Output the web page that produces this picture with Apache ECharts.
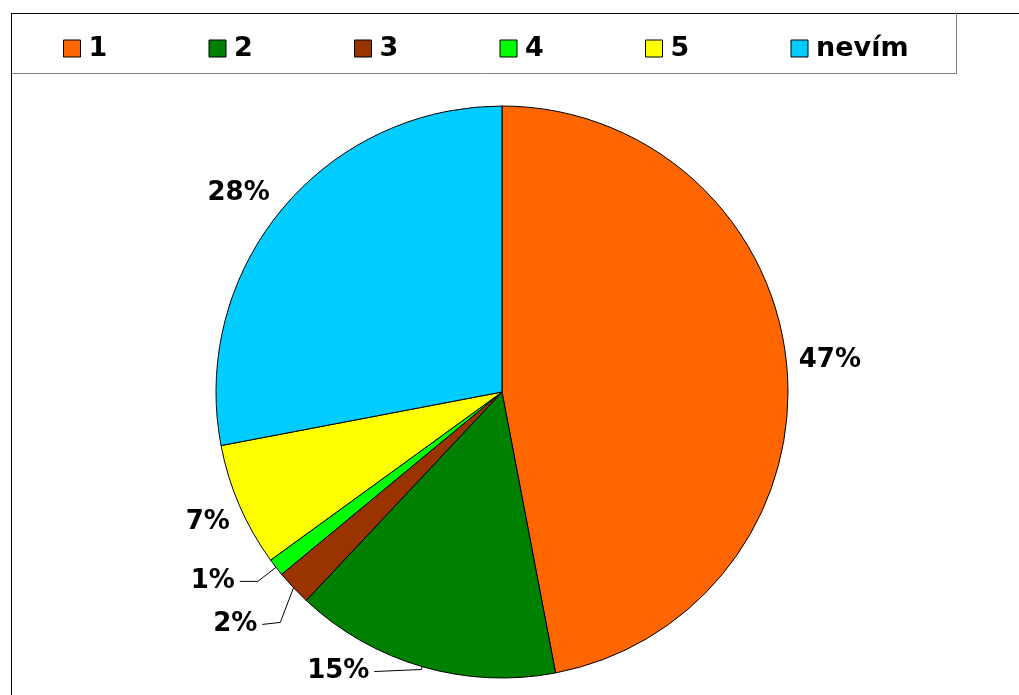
<!DOCTYPE html>
<html>
<head>
<meta charset="utf-8">
<script src="https://cdn.jsdelivr.net/npm/echarts@6/dist/echarts.min.js"></script>
<style>
  html, body { margin: 0; padding: 0; background: #fff; }
  #chart { width: 1019px; height: 695px; }
</style>
</head>
<body>
<div id="chart"></div>
<script>
// Answer categories and their shares (percent)
const categories = ['1', '2', '3', '4', '5', 'nevím'];
const shares = [47, 15, 2, 1, 7, 28];
const colors = ['#FF6600', '#008000', '#993300', '#00FF00', '#FFFF00', '#00CCFF'];

// Label placement per slice: leader-line lengths, whether the line shows, vertical nudge
const lineLen1 = [4, 3, 36, 23, 4, 9];
const lineLen2 = [3, 47, 5, 18, 1, 0];
const lineShow = [false, true, true, true, false, false];
const labelNudge = [-4, 2, 12, 0, 15, -11];
const elbowShiftX = [0, 0, 13, 0, 0, 0];

const chart = echarts.init(document.getElementById('chart'), null, { renderer: 'canvas' });

const FONT = '"DejaVu Sans", Verdana, sans-serif';

const data = categories.map((name, i) => ({
  name,
  value: shares[i],
  itemStyle: { color: colors[i] },
  label: { show: true },
  labelLine: { show: lineShow[i], length: lineLen1[i], length2: lineLen2[i] }
}));

chart.setOption({
  animation: false,
  backgroundColor: '#ffffff',
  legend: {
    data: categories,
    orient: 'horizontal',
    left: 63,
    top: 35,
    padding: 0,
    itemWidth: 17,
    itemHeight: 17,
    itemGap: 8,
    icon: 'rect',
    selectedMode: false,
    itemStyle: { borderColor: '#000', borderWidth: 1 },
    textStyle: {
      fontFamily: FONT,
      fontSize: 27,
      fontWeight: 'bold',
      color: '#000',
      width: 112,
      padding: [0, 0, 0, 3],
      lineHeight: 20
    }
  },
  graphic: [
    // chart frame (top and left edges)
    { type: 'line', shape: { x1: 11, y1: 13.5, x2: 1019, y2: 13.5 }, style: { stroke: '#000', lineWidth: 1 }, silent: true },
    { type: 'line', shape: { x1: 11.5, y1: 13, x2: 11.5, y2: 695 }, style: { stroke: '#000', lineWidth: 1 }, silent: true },
    // legend box (right and bottom edges)
    { type: 'line', shape: { x1: 956.5, y1: 13, x2: 956.5, y2: 73 }, style: { stroke: '#808080', lineWidth: 1 }, silent: true },
    { type: 'line', shape: { x1: 12, y1: 73.5, x2: 957, y2: 73.5 }, style: { stroke: '#808080', lineWidth: 1 }, silent: true }
  ],
  series: [{
    type: 'pie',
    center: [502, 392],
    radius: 286,
    startAngle: 90,
    clockwise: true,
    avoidLabelOverlap: false,
    silent: true,
    emphasis: { disabled: true },
    itemStyle: { borderColor: '#000', borderWidth: 1 },
    label: {
      position: 'outside',
      formatter: '{c}%',
      fontFamily: FONT,
      fontSize: 26,
      fontWeight: 'bold',
      color: '#000',
      distanceToLabelLine: 5
    },
    labelLine: {
      lineStyle: { color: '#000', width: 1 },
      smooth: false
    },
    labelLayout: function (p) {
      const i = p.dataIndex;
      const dy = labelNudge[i];
      const out = { dy: dy };
      if (lineShow[i] && p.labelLinePoints) {
        const pts = p.labelLinePoints;
        out.labelLinePoints = [
          [pts[0][0], pts[0][1]],
          [pts[1][0] + elbowShiftX[i], pts[1][1] + (elbowShiftX[i] ? dy - 2 : 0)],
          [pts[2][0], pts[2][1] + dy]
        ];
      }
      return out;
    },
    data: data
  }]
});
</script>
</body>
</html>
